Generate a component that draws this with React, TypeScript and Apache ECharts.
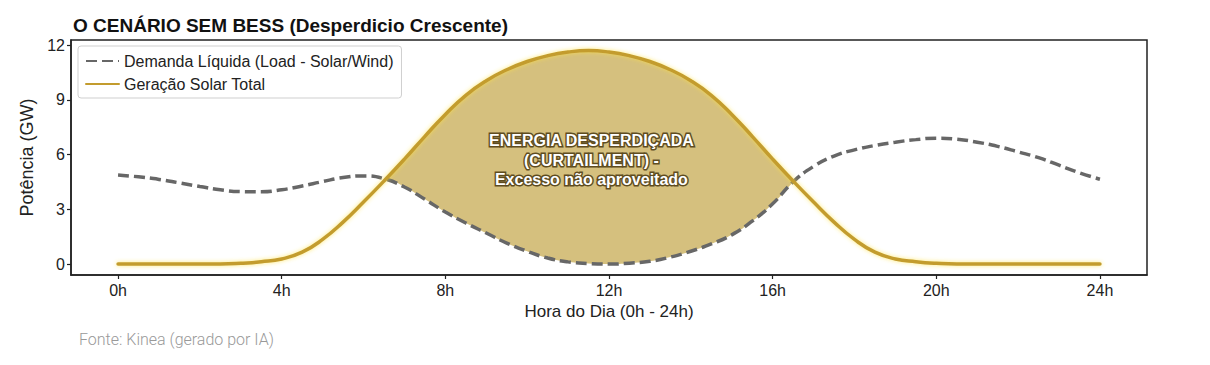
import React, { useEffect, useRef } from "react";
import * as echarts from "echarts";

// Hours of the day (half-hour resolution)
const HOURS = [
  0, 0.5, 1, 1.5, 2, 2.5, 3, 3.5, 4, 4.5, 5, 5.5, 6, 6.5, 7, 7.5, 8, 8.5, 9, 9.5,
  10, 10.5, 11, 11.5, 12, 12.5, 13, 13.5, 14, 14.5, 15, 15.5, 16, 16.5, 17, 17.5,
  18, 18.5, 19, 19.5, 20, 20.5, 21, 21.5, 22, 22.5, 23, 23.5, 24,
];

// Geração Solar Total (GW)
const SOLAR = [
  0, 0, 0, 0, 0, 0, 0.04, 0.13, 0.28, 0.65, 1.35, 2.3, 3.4, 4.55, 5.75, 7.0, 8.2,
  9.25, 10.05, 10.65, 11.1, 11.42, 11.62, 11.7, 11.62, 11.42, 11.1, 10.65, 10.05,
  9.25, 8.2, 7.0, 5.75, 4.55, 3.4, 2.3, 1.35, 0.65, 0.28, 0.13, 0.04, 0, 0, 0, 0,
  0, 0, 0, 0,
];

// Demanda Líquida (GW)
const DEMAND = [
  4.88, 4.78, 4.64, 4.45, 4.25, 4.07, 3.97, 3.96, 4.07, 4.28, 4.52, 4.74, 4.83,
  4.68, 4.22, 3.55, 2.85, 2.25, 1.7, 1.15, 0.7, 0.33, 0.12, 0.03, 0, 0.05, 0.15,
  0.38, 0.7, 1.1, 1.6, 2.35, 3.3, 4.5, 5.35, 5.92, 6.26, 6.5, 6.68, 6.82, 6.9, 6.84,
  6.68, 6.45, 6.15, 5.83, 5.42, 5.0, 4.65,
];

const X_TICKS = [0, 4, 8, 12, 16, 20, 24];
const X_TICK_LABELS = ["0h", "4h", "8h", "12h", "16h", "20h", "24h"];
const Y_TICKS = [0, 3, 6, 9, 12];
const Y_TICK_LABELS = ["0", "3", "6", "9", "12"];

const SERIES_DEMAND = "Demanda Líquida (Load - Solar/Wind)";
const SERIES_SOLAR = "Geração Solar Total";
const TITLE = "O CENÁRIO SEM BESS (Desperdicio Crescente)";
const X_NAME = "Hora do Dia (0h - 24h)";
const Y_NAME = "Potência (GW)";
const ANNOT_LINES = ["ENERGIA DESPERDIÇADA", "(CURTAILMENT) -", "Excesso não aproveitado"];
const ANNOT_POS = [11.57, 5.7];
const SOURCE = "Fonte: Kinea (gerado por IA)";

const FONT = "'Liberation Sans', Arial, sans-serif";

function pairs(xs: number[], ys: number[]) {
  return xs.map((x, i) => [x, ys[i]]);
}

// lower envelope min(solar, demand) with crossing points inserted
function lowerEnvelope() {
  const out: number[][] = [];
  for (let i = 0; i < HOURS.length; i++) {
    out.push([HOURS[i], Math.min(SOLAR[i], DEMAND[i])]);
    if (i < HOURS.length - 1) {
      const a = SOLAR[i] - DEMAND[i];
      const b = SOLAR[i + 1] - DEMAND[i + 1];
      if (a * b < 0) {
        const t = a / (a - b);
        const h = HOURS[i] + t * (HOURS[i + 1] - HOURS[i]);
        const v = SOLAR[i] + t * (SOLAR[i + 1] - SOLAR[i]);
        out.push([h, v]);
      }
    }
  }
  return out;
}

export default function App() {
  const ref = useRef<HTMLDivElement>(null);
  useEffect(() => {
    if (!ref.current) return;
    const chart = echarts.init(ref.current, undefined, { renderer: "svg" });
    const axisColor = "#222";
    chart.setOption({
      animation: false,
      backgroundColor: "#fff",
      title: {
        text: TITLE,
        left: 68,
        top: 11,
        textStyle: { fontFamily: FONT, fontWeight: "bold", fontSize: 19, color: "#111" },
      },
      grid: {
        left: 71,
        top: 40,
        width: 1076,
        height: 235,
        show: true,
        borderColor: axisColor,
        borderWidth: 1.5,
        backgroundColor: "transparent",
      },
      legend: {
        orient: "vertical",
        left: 78,
        top: 46,
        padding: [7, 8, 6, 7],
        itemGap: 7,
        itemWidth: 33,
        itemHeight: 14,
        backgroundColor: "rgba(255,255,255,0.9)",
        borderColor: "#cfcfcf",
        borderWidth: 1,
        borderRadius: 3,
        itemStyle: { opacity: 0 },
        data: [SERIES_DEMAND, SERIES_SOLAR],
        textStyle: { fontFamily: FONT, fontSize: 16, color: "#222" },
      },
      xAxis: {
        type: "value",
        min: -1.15,
        max: 25.15,
        name: X_NAME,
        nameLocation: "middle",
        nameGap: 15,
        nameTextStyle: { fontFamily: FONT, fontSize: 17, color: "#222" },
        axisLine: { show: true, onZero: false, lineStyle: { color: axisColor, width: 1.5 } },
        axisTick: { show: true, length: 4, customValues: X_TICKS, lineStyle: { color: axisColor, width: 1.2 } },
        axisLabel: {
          customValues: X_TICKS,
          margin: 7,
          fontFamily: FONT,
          fontSize: 16,
          color: "#222",
          formatter: (v: number) => X_TICK_LABELS[X_TICKS.indexOf(v)] ?? "",
        },
        splitLine: { show: false },
      },
      yAxis: {
        type: "value",
        min: -0.6,
        max: 12.28,
        name: Y_NAME,
        nameLocation: "middle",
        nameRotate: 90,
        nameGap: 22,
        nameTextStyle: { fontFamily: FONT, fontSize: 18, color: "#222" },
        axisLine: { show: true, onZero: false, lineStyle: { color: axisColor, width: 1.5 } },
        axisTick: { show: true, length: 4, customValues: Y_TICKS, lineStyle: { color: axisColor, width: 1.2 } },
        axisLabel: {
          customValues: Y_TICKS,
          margin: 6,
          fontFamily: FONT,
          fontSize: 16,
          color: "#222",
          formatter: (v: number) => Y_TICK_LABELS[Y_TICKS.indexOf(v)] ?? "",
        },
        splitLine: { show: false },
      },
      series: [
        {
          name: "solar-area",
          type: "line",
          data: pairs(HOURS, SOLAR),
          smooth: true,
          symbol: "none",
          lineStyle: { opacity: 0, width: 0 },
          areaStyle: { color: "#d5c07e", opacity: 1 },
          silent: true,
          z: 1,
        },
        {
          name: "mask",
          type: "line",
          data: lowerEnvelope(),
          smooth: true,
          symbol: "none",
          lineStyle: { opacity: 0, width: 0 },
          areaStyle: { color: "#ffffff", opacity: 1 },
          silent: true,
          z: 2,
        },
        {
          name: SERIES_DEMAND,
          type: "line",
          data: pairs(HOURS, DEMAND),
          smooth: true,
          symbol: "none",
          clip: false,
          lineStyle: { color: "#676767", width: 3.5, type: [11, 5] },
          itemStyle: { color: "#676767" },
          z: 3,
        },
        {
          name: SERIES_SOLAR,
          type: "line",
          data: pairs(HOURS, SOLAR),
          smooth: true,
          symbol: "none",
          clip: false,
          lineStyle: {
            color: "#c39c2e",
            width: 3.5,
            cap: "round",
            shadowBlur: 4,
            shadowColor: "rgba(255, 225, 60, 0.7)",
          },
          itemStyle: { color: "#c39c2e" },
          z: 4,
          markPoint: {
            symbol: "rect",
            symbolSize: 1,
            itemStyle: { color: "rgba(0,0,0,0)" },
            label: {
              show: true,
              position: "inside",
              formatter: ANNOT_LINES.join("\n"),
              fontFamily: FONT,
              fontWeight: "bold",
              fontSize: 16,
              lineHeight: 19.5,
              color: "#ffffff",
              textBorderColor: "#5e4c1f",
              textBorderWidth: 3,
              align: "center",
              verticalAlign: "middle",
            },
            data: [{ coord: ANNOT_POS }],
          },
        },
      ],
      graphic: [
        {
          type: "text",
          left: 79,
          top: 331,
          style: { text: SOURCE, fill: "#999999", font: "300 16px Roboto, sans-serif" },
        },
      ],
    });
    return () => chart.dispose();
  }, []);
  return (
    <div
      ref={ref}
      style={{ position: "absolute", left: 0, top: 0, width: 1210, height: 365 }}
    />
  );
}
